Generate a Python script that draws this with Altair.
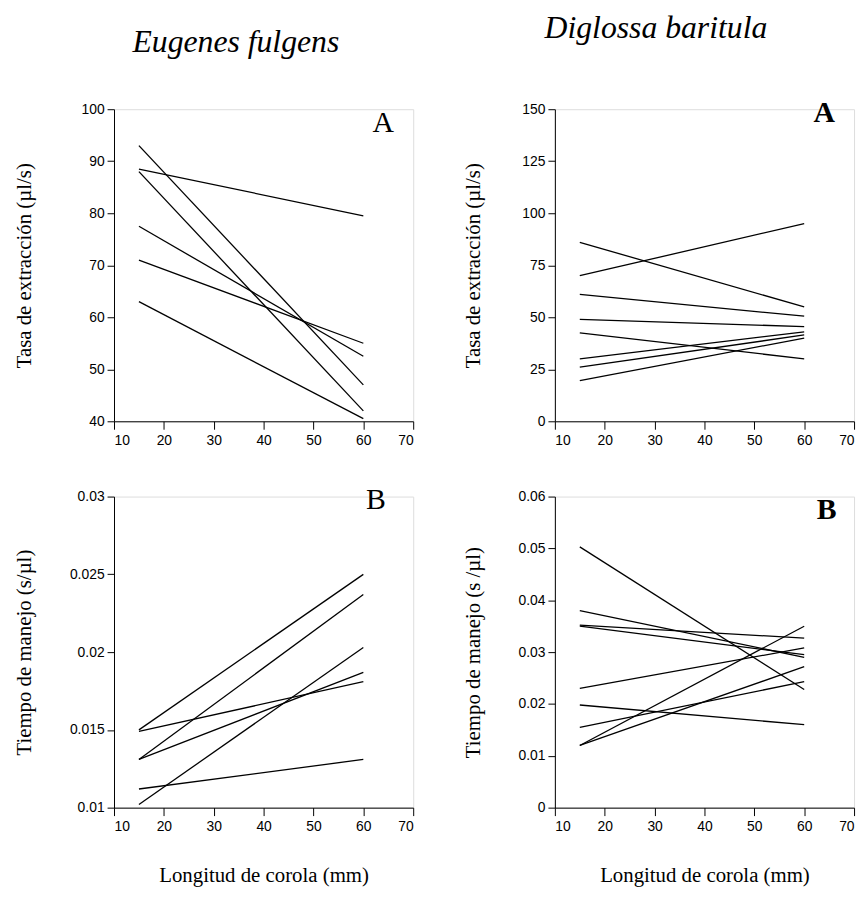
import altair as alt
import pandas as pd

x_ends = [15, 60]

ef_rate_start = [93, 88, 88.5, 77.5, 71, 63]
ef_rate_end = [47, 42, 79.5, 52.5, 55, 40.5]

db_rate_start = [86, 70, 61, 49, 42.5, 30, 26, 19.5]
db_rate_end = [55, 95, 50.5, 45.5, 30, 43, 41.5, 40]

ef_time_start = [0.0150, 0.0131, 0.0131, 0.0149, 0.0102, 0.0112]
ef_time_end = [0.0250, 0.0237, 0.0187, 0.0181, 0.0203, 0.0131]

db_time_start = [0.0503, 0.0380, 0.0352, 0.0350, 0.0230, 0.0198, 0.0155, 0.0120, 0.0120]
db_time_end = [0.0228, 0.0290, 0.0327, 0.0295, 0.0308, 0.0160, 0.0243, 0.0350, 0.0272]

x_ticks = [10, 20, 30, 40, 50, 60, 70]
ef_rate_ticks = [40, 50, 60, 70, 80, 90, 100]
db_rate_ticks = [0, 25, 50, 75, 100, 125, 150]
ef_time_ticks = [0.01, 0.015, 0.02, 0.025, 0.03]
db_time_ticks = [0, 0.01, 0.02, 0.03, 0.04, 0.05, 0.06]

LABEL_FONT = "Liberation Sans"
SERIF = "Liberation Serif"


def lines_df(starts, ends):
    rows = []
    for i, (s, e) in enumerate(zip(starts, ends)):
        rows.append({"id": i, "x": x_ends[0], "y": s})
        rows.append({"id": i, "x": x_ends[1], "y": e})
    return pd.DataFrame(rows)


def panel(starts, ends, yticks, yfmt, ytitle, letter, lx, ly, bold, xtitle, width, height,
          title=None, title_dx=0, title_dy=0, ytitle_x=-80):
    df = lines_df(starts, ends)
    xaxis = alt.Axis(values=x_ticks, format="d", grid=False, domainColor="black",
                     tickColor="black", tickSize=8, labelPadding=4,
                     labelFont=LABEL_FONT, labelFontSize=14, labelColor="black",
                     title=xtitle if xtitle else None, titleFont=SERIF,
                     titleFontSize=21, titleFontWeight="normal", titleColor="black",
                     titlePadding=32)
    yaxis = alt.Axis(values=yticks, format=yfmt, grid=False, domainColor="black",
                     tickColor="black", tickSize=7, labelPadding=3,
                     labelFont=LABEL_FONT, labelFontSize=14, labelColor="black",
                     title=ytitle, titleFont=SERIF, titleFontSize=21,
                     titleFontWeight="normal", titleColor="black", titleX=ytitle_x)
    xs = alt.Scale(domain=[x_ticks[0], x_ticks[-1]], nice=False)
    ys = alt.Scale(domain=[yticks[0], yticks[-1]], nice=False, zero=False)
    lines = alt.Chart(df).mark_line(color="black", strokeWidth=1.3).encode(
        x=alt.X("x:Q", scale=xs, axis=xaxis),
        y=alt.Y("y:Q", scale=ys, axis=yaxis),
        detail="id:N",
    )
    ldf = pd.DataFrame({"x": [lx], "y": [ly], "t": [letter]})
    txt = alt.Chart(ldf).mark_text(font=SERIF, fontSize=30,
                                   fontWeight="bold" if bold else "normal",
                                   color="black", baseline="middle", align="center",
                                   clip=False).encode(
        x=alt.X("x:Q", scale=xs), y=alt.Y("y:Q", scale=ys), text="t:N")
    ch = alt.layer(lines, txt).properties(width=width, height=height)
    if title:
        ch = ch.properties(title=alt.TitleParams(
            title, font=SERIF, fontSize=32, fontStyle="italic", fontWeight="normal",
            color="black", anchor="middle", dx=title_dx, dy=title_dy, offset=44))
    return ch


tl = panel(ef_rate_start, ef_rate_end, ef_rate_ticks, "d", "Tasa de extracción (µl/s)",
           "A", 64, 97.3, False, None, 302, 315,
           title="Eugenes fulgens", title_dx=-28, title_dy=0, ytitle_x=-80)
tr = panel(db_rate_start, db_rate_end, db_rate_ticks, "d", "Tasa de extracción (µl/s)",
           "A", 64, 148.3, True, None, 302, 315,
           title="Diglossa baritula", title_dx=-49, title_dy=-9, ytitle_x=-72)
bl = panel(ef_time_start, ef_time_end, ef_time_ticks, "~r", "Tiempo de manejo (s/µl)",
           "B", 62.5, 0.0298, False, "Longitud de corola (mm)", 302, 314,
           ytitle_x=-80)
br = panel(db_time_start, db_time_end, db_time_ticks, "~r", "Tiempo de manejo (s /µl)",
           "B", 64.5, 0.0573, True, "Longitud de corola (mm)", 302, 314,
           ytitle_x=-72)

chart = alt.concat(tl, tr, bl, br, columns=2, spacing={"row": 76, "column": 143},
                   bounds="flush").properties(
    padding={"left": 5, "top": 0, "right": 5, "bottom": 5}
).configure_view(stroke=None).configure(background="white")

chart.save("out.html", embed_options={"renderer": "svg", "actions": False})
